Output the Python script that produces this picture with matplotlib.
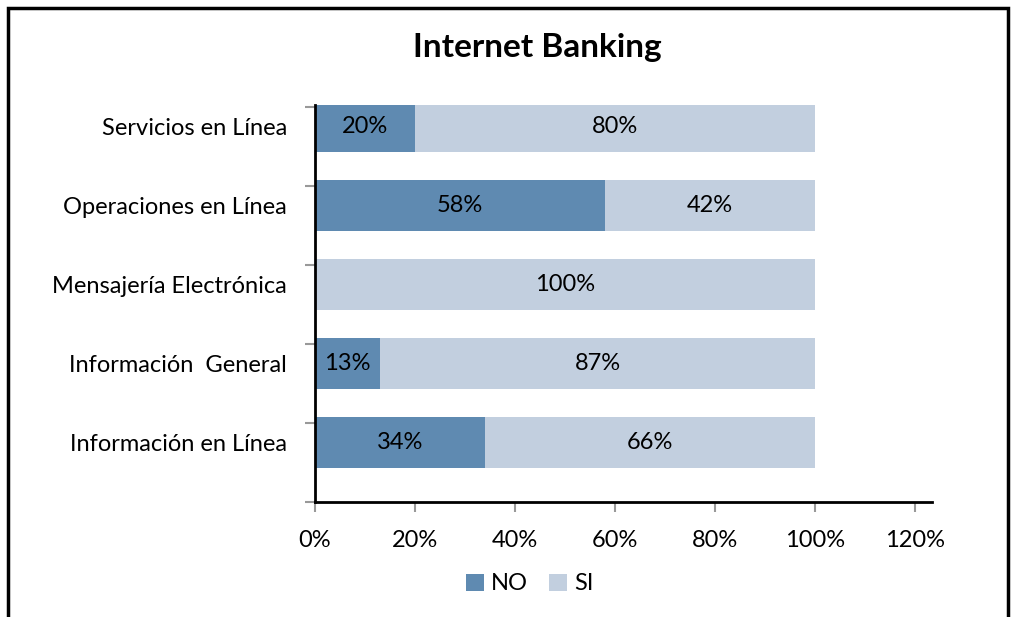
import matplotlib
matplotlib.use("Agg")
import matplotlib.pyplot as plt
import numpy as np
from matplotlib.patches import Rectangle

plt.rcParams['font.family'] = ['Lato', 'DejaVu Sans']

categories = ["Información en Línea", "Información  General", "Mensajería Electrónica",
              "Operaciones en Línea", "Servicios en Línea"]
no_vals = [0.34, 0.13, 0.00, 0.58, 0.20]
si_vals = [0.66, 0.87, 1.00, 0.42, 0.80]
xticks = [0, 0.2, 0.4, 0.6, 0.8, 1.0, 1.2]
xticklabels = ["0%", "20%", "40%", "60%", "80%", "100%", "120%"]

C_NO = "#5F8AB1"
C_SI = "#C2CFDF"
FS = 17

fig = plt.figure(figsize=(10.15, 6.17), dpi=100)
ax = fig.add_axes([315/1015, 1-502/617, (932-315)/1015, (502-105)/617])

y = np.arange(len(categories))
h = 0.65
b1 = ax.barh(y, no_vals, height=h, color=C_NO, label="NO")
b2 = ax.barh(y, si_vals, left=no_vals, height=h, color=C_SI, label="SI")

for i in range(len(categories)):
    if no_vals[i] > 0:
        ax.text(no_vals[i]/2, y[i], f"{no_vals[i]*100:.0f}%", ha="center", va="center", fontsize=FS)
    if si_vals[i] > 0:
        ax.text(no_vals[i] + si_vals[i]/2, y[i], f"{si_vals[i]*100:.0f}%", ha="center", va="center", fontsize=FS)

ax.set_xlim(0, 1.2*(932-315)/(915-315))
ax.set_ylim(-0.75, 4.27)
ax.set_xticks(xticks)
ax.set_xticklabels(xticklabels, fontsize=FS)
ax.set_yticks(y)
ax.set_yticklabels(categories, fontsize=FS)
ax.set_yticks(np.arange(-0.75, 4.3, 1.0), minor=True)
ax.tick_params(axis='y', which='major', length=0, pad=20)
ax.tick_params(axis='y', which='minor', length=7, width=1.5, color="#999999", direction='out')
ax.tick_params(axis='x', which='major', length=7, width=1.5, color="#999999", direction='out', pad=13)

for s in ["top", "right"]:
    ax.spines[s].set_visible(False)
ax.spines["left"].set_linewidth(2)
ax.spines["bottom"].set_linewidth(2)

fig.text(537/1015, 1-47/617, "Internet Banking", ha="center", va="center",
         fontsize=24, fontweight="bold")

leg = fig.legend(handles=[b1, b2], labels=["NO", "SI"], loc="center",
                 bbox_to_anchor=(530/1015, 1-584/617), ncol=2, frameon=False,
                 fontsize=FS, handlelength=0.75, handleheight=0.75, handletextpad=0.3,
                 columnspacing=0.9)

fig.patches.append(Rectangle((8/1015, -0.05), (1008-8)/1015, 1.05 - 8/617,
                             transform=fig.transFigure, fill=False, edgecolor="black",
                             linewidth=2.5))

fig.savefig("out.png", dpi=100)
